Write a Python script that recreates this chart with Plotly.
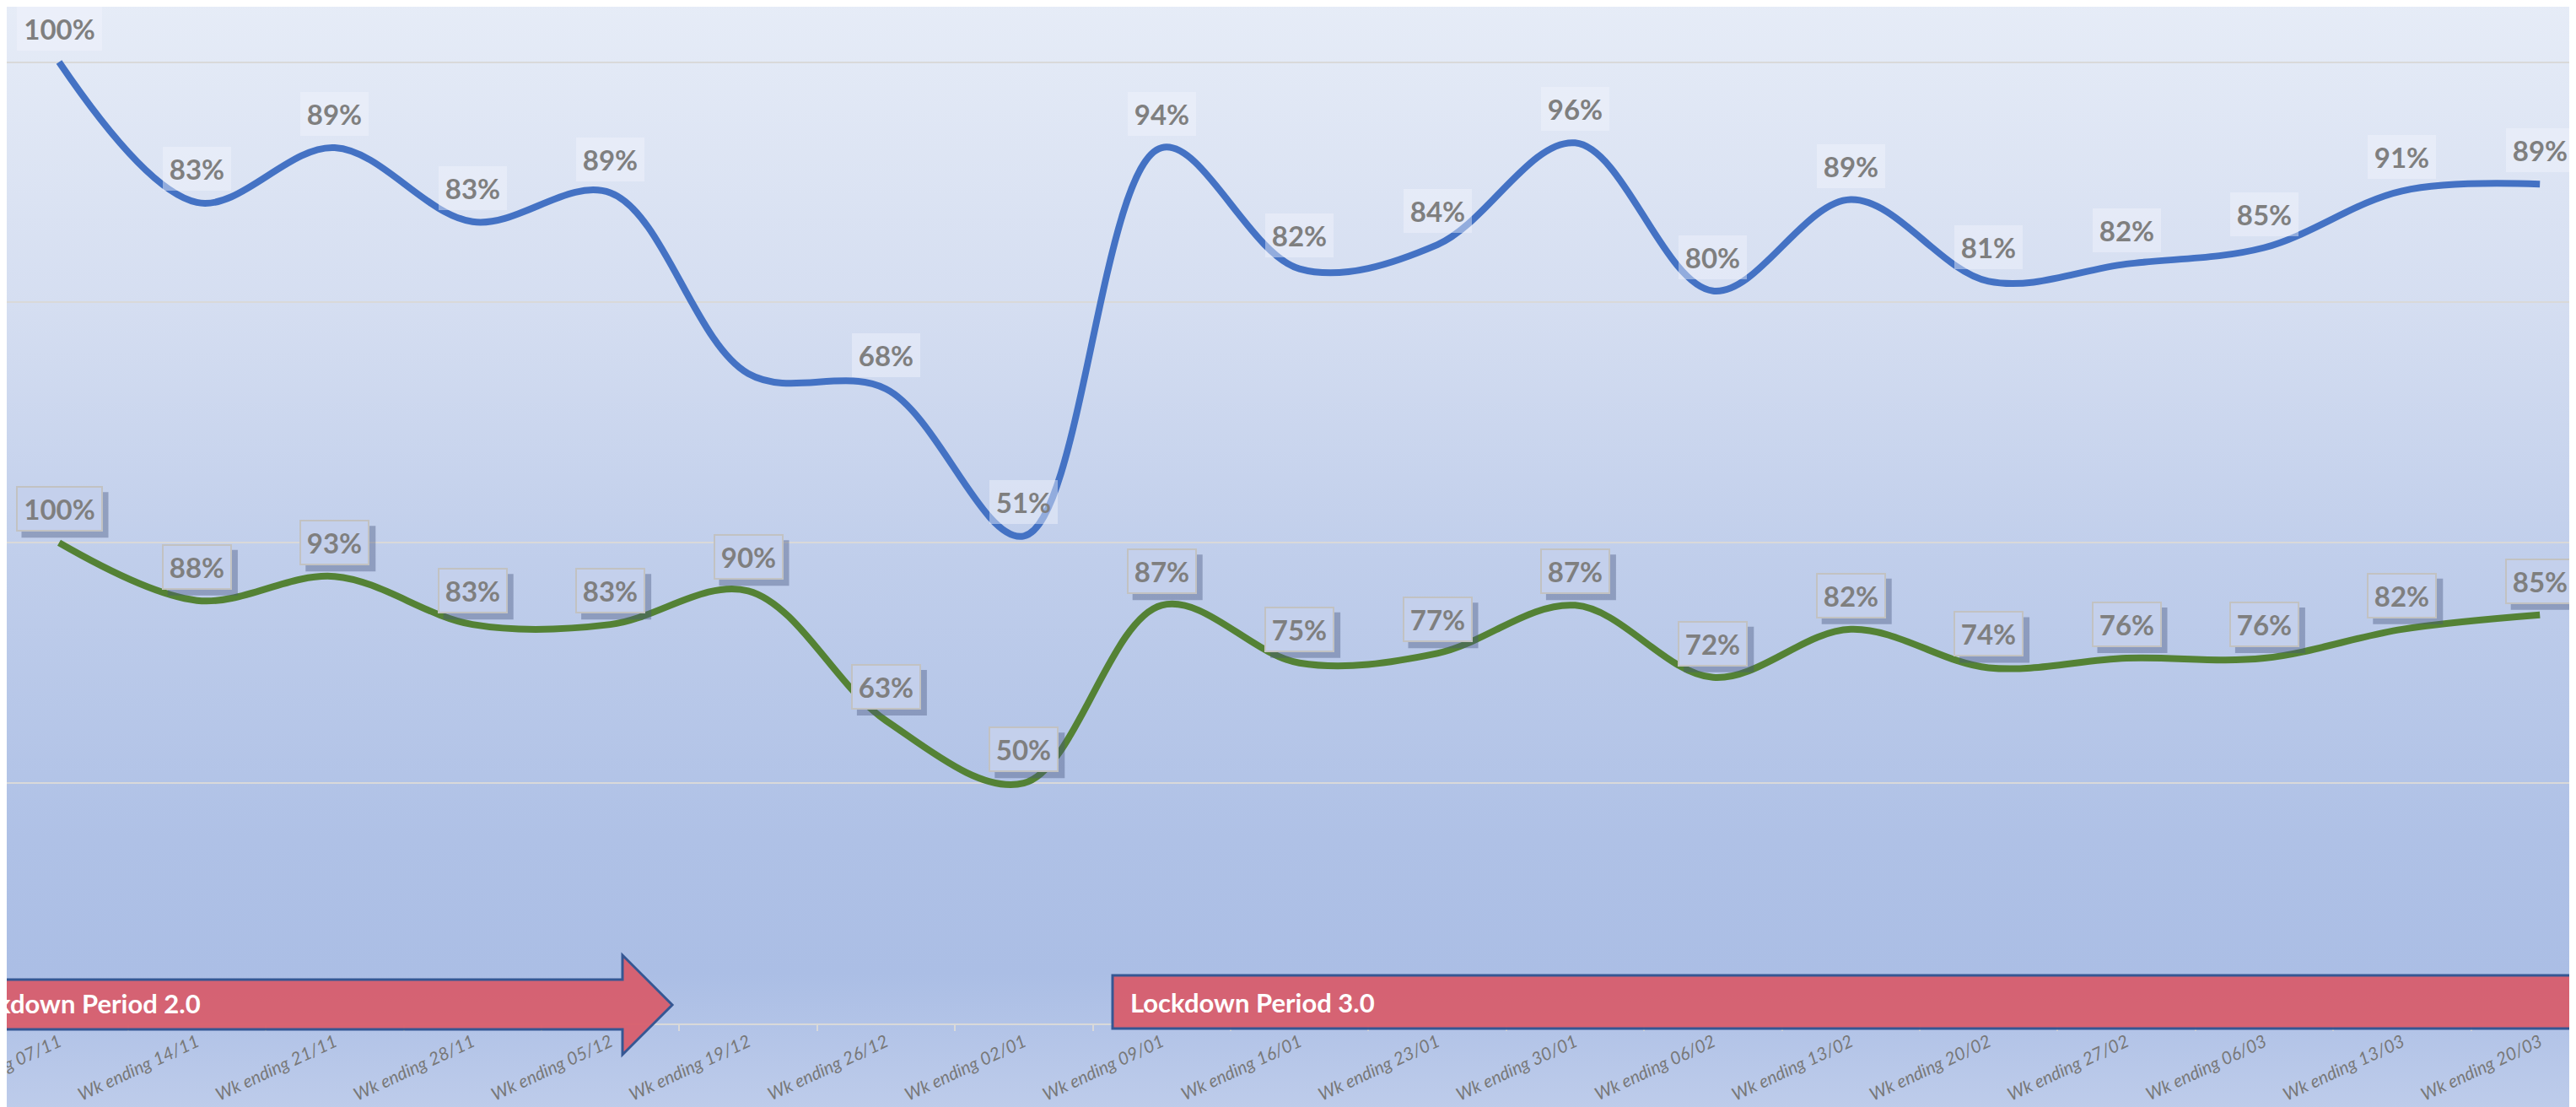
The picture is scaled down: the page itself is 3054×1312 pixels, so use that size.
import base64
import plotly.graph_objects as go

# ---------------- data ----------------
weeks = ["Wk ending 07/11", "Wk ending 14/11", "Wk ending 21/11", "Wk ending 28/11",
         "Wk ending 05/12", "Wk ending 19/12", "Wk ending 26/12", "Wk ending 02/01",
         "Wk ending 09/01", "Wk ending 16/01", "Wk ending 23/01", "Wk ending 30/01",
         "Wk ending 06/02", "Wk ending 13/02", "Wk ending 20/02", "Wk ending 27/02",
         "Wk ending 06/03", "Wk ending 13/03", "Wk ending 20/03"]

# green series (primary axis) - values equal their labels
green_vals = [100, 88, 93, 83, 83, 90, 63, 50, 87, 75, 77, 87, 72, 82, 74, 76, 76, 82, 85]

# blue series (hidden secondary axis) - line values
blue_line = [100, 85.4, 91.1, 83.4, 86.4, 67.6, 66.0, 50.7, 91.1, 78.5, 81.0, 91.6,
             76.2, 85.7, 77.2, 79.0, 80.7, 86.6, 87.3]
# blue data labels as printed on the chart (one label not shown)
blue_labels = [100, 83, 89, 83, 89, None, 68, 51, 94, 82, 84, 96, 80, 89, 81, 82, 85, 91, 89]

period_names = ["Lockdown Period 2.0", "Lockdown Period 3.0"]

# ---------------- geometry / style ----------------
W, H = 3054, 1312
BOTTOM = 107
PH = H - BOTTOM

LABEL_FONT = "Lato"
GRAY = "#7f7f7f"
LBL_SIZE = 33
LBL_SHIFT = 40
BOX_H = 40


def X(px):
    return px / W


def Y(py):
    return (PH - py) / PH


def box_w(txt):
    return 89 if len(txt) >= 4 else 69


fig = go.Figure()

fig.add_trace(go.Scatter(
    x=weeks, y=green_vals, mode="lines", yaxis="y",
    line=dict(color="#548235", width=8, shape="spline", smoothing=1.0),
    hoverinfo="skip", showlegend=False))

fig.add_trace(go.Scatter(
    x=weeks, y=blue_line, mode="lines", yaxis="y2",
    line=dict(color="#4472c4", width=8, shape="spline", smoothing=1.0),
    hoverinfo="skip", showlegend=False))

annotations = []
shapes = []

# green labels: bordered boxes with a drop shadow (shadow drawn as a pixel-sized shape)
G_PAD, G_BW = 5, 2
for w, v in zip(weeks, green_vals):
    txt = f"{v}%"
    bw = box_w(txt)
    ow = bw + 2 * (G_PAD + G_BW)
    oh = BOX_H + 2 * (G_PAD + G_BW)
    sx, sy = 7, -7
    shapes.append(dict(
        type="rect", xref="x", yref="y", xsizemode="pixel", ysizemode="pixel",
        xanchor=w, yanchor=v,
        x0=-ow / 2 + sx, x1=ow / 2 + sx,
        y0=LBL_SHIFT - oh / 2 + sy, y1=LBL_SHIFT + oh / 2 + sy,
        fillcolor="rgba(70,85,125,0.40)", line=dict(width=0), layer="above"))
    annotations.append(dict(
        x=w, y=v, xref="x", yref="y", text=txt, showarrow=False,
        width=bw, height=BOX_H,
        font=dict(family=LABEL_FONT, size=LBL_SIZE, color=GRAY, weight="bold"),
        bgcolor="#c4d0ec", borderpad=G_PAD, borderwidth=G_BW,
        bordercolor="#c2c2c2", yshift=LBL_SHIFT))

# blue labels: soft light boxes
for w, yv, lab in zip(weeks, blue_line, blue_labels):
    if lab is None:
        continue
    txt = f"{lab}%"
    annotations.append(dict(
        x=w, y=yv, xref="x", yref="y2", text=txt, showarrow=False,
        width=box_w(txt), height=BOX_H,
        font=dict(family=LABEL_FONT, size=LBL_SIZE, color=GRAY, weight="bold"),
        bgcolor="rgba(242,245,252,0.45)", borderpad=6, borderwidth=0,
        yshift=LBL_SHIFT))

# lockdown period texts
annotations.append(dict(
    x=X(232), y=Y(1181), xref="paper", yref="paper", xanchor="right", yanchor="middle",
    text=period_names[0], showarrow=False,
    font=dict(family=LABEL_FONT, size=31, color="white", weight="bold")))
annotations.append(dict(
    x=X(1330), y=Y(1180), xref="paper", yref="paper", xanchor="left", yanchor="middle",
    text=period_names[1], showarrow=False,
    font=dict(family=LABEL_FONT, size=31, color="white", weight="bold")))

arrow_path = (f"M {X(-30)},{Y(1153)} L {X(730)},{Y(1153)} L {X(730)},{Y(1124)} "
              f"L {X(789)},{Y(1183)} L {X(730)},{Y(1242)} L {X(730)},{Y(1212)} "
              f"L {X(-30)},{Y(1212)} Z")

shapes += [
    dict(type="path", path=arrow_path, xref="paper", yref="paper",
         fillcolor="#d85e6d", opacity=0.95, line=dict(color="#2f528f", width=3),
         layer="above"),
    dict(type="rect", x0=X(1311), x1=X(3100), y0=Y(1211), y1=Y(1148),
         xref="paper", yref="paper",
         fillcolor="#d85e6d", opacity=0.95, line=dict(color="#2f528f", width=3),
         layer="above"),
]

# background gradient via SVG image
stops = [(0.00, "#e6ecf7"), (0.27, "#d5def1"), (0.50, "#c0ceeb"),
         (0.75, "#afc1e6"), (0.87, "#abbee5"), (1.00, "#bfcdeb")]
stop_xml = "".join(f'<stop offset="{o}" stop-color="{c}"/>' for o, c in stops)
svg = (f'<svg xmlns="http://www.w3.org/2000/svg" width="{W}" height="{H}" '
       f'viewBox="0 0 {W} {H}" preserveAspectRatio="none">'
       f'<defs><linearGradient id="g" x1="0" y1="0" x2="0" y2="1">{stop_xml}'
       f'</linearGradient></defs><rect x="0" y="0" width="{W}" height="{H}" fill="url(#g)"/></svg>')
bg_src = "data:image/svg+xml;base64," + base64.b64encode(svg.encode()).decode()

x_lo = -62 / 163.4
x_hi = x_lo + W / 163.4

fig.update_layout(
    width=W, height=H, autosize=False,
    margin=dict(l=0, r=0, t=0, b=BOTTOM, pad=0, autoexpand=False),
    paper_bgcolor="#c8d4ee", plot_bgcolor="rgba(0,0,0,0)",
    showlegend=False,
    images=[dict(source=bg_src, xref="paper", yref="paper", x=-0.01, y=1.005,
                 sizex=1.02, sizey=H / PH + 0.01, xanchor="left", yanchor="top",
                 sizing="stretch", layer="below")],
    xaxis=dict(type="category", range=[x_lo, x_hi], showgrid=False, automargin=False,
               showline=True, linecolor="#d9d9d9", linewidth=2,
               ticks="outside", tickson="boundaries", ticklen=7, tickwidth=2,
               tickcolor="#d9d9d9", tickangle=-25,
               tickfont=dict(family=LABEL_FONT, size=21, color="#787878", style="italic"),
               fixedrange=True),
    yaxis=dict(range=[0, 200 * PH / (PH - 65.6)], dtick=50, showgrid=True,
               gridcolor="#d9d9d9", gridwidth=1.5, showticklabels=False, automargin=False,
               zeroline=False, showline=False, ticks="", fixedrange=True),
    yaxis2=dict(range=[0, 100 * PH / (PH - 65.6)], overlaying="y", visible=False,
                showgrid=False, fixedrange=True, automargin=False),
    annotations=annotations,
    shapes=shapes,
)

fig.write_html("out.html", config={"displayModeBar": False})
